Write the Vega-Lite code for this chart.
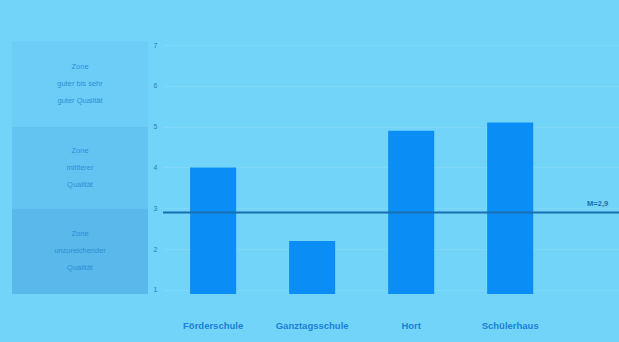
{
  "$schema": "https://vega.github.io/schema/vega-lite/v6.json",
  "background": "#72d4f8",
  "padding": {"left": 12, "top": 41, "right": 0, "bottom": 14},
  "spacing": 5,
  "config": {
    "view": {"stroke": null},
    "font": "Liberation Sans"
  },
  "datasets": {
    "zones": [
      {"lo": 0.9, "hi": 3, "label": "Zone\nunzureichender\nQualität", "zone": "low"},
      {"lo": 3, "hi": 5, "label": "Zone\nmittlerer\nQualität", "zone": "mid"},
      {"lo": 5, "hi": 7.1, "label": "Zone\nguter bis sehr\nguter Qualität", "zone": "high"}
    ],
    "bars": [
      {"schulart": "Förderschule", "wert": 4.0},
      {"schulart": "Ganztagsschule", "wert": 2.2},
      {"schulart": "Hort", "wert": 4.9},
      {"schulart": "Schülerhaus", "wert": 5.1}
    ]
  },
  "hconcat": [
    {
      "width": 136,
      "height": 253,
      "data": {"name": "zones"},
      "transform": [{"calculate": "(datum.lo + datum.hi) / 2", "as": "mitte"}],
      "layer": [
        {
          "mark": {"type": "rect"},
          "encoding": {
            "y": {"field": "hi", "type": "quantitative", "scale": {"domain": [0.9, 7.1], "nice": false, "zero": false}, "axis": null},
            "y2": {"field": "lo"},
            "color": {"field": "zone", "type": "nominal", "scale": {"domain": ["low", "mid", "high"], "range": ["#5ab8ea", "#63c4f1", "#6dcdf6"]}, "legend": null}
          }
        },
        {
          "mark": {"type": "text", "lineBreak": "\n", "lineHeight": 17, "fontSize": 7.5, "color": "#2f8fd8", "align": "center", "baseline": "middle", "dy": -17},
          "encoding": {
            "y": {"field": "mitte", "type": "quantitative", "scale": {"domain": [0.9, 7.1], "nice": false, "zero": false}, "axis": null},
            "text": {"field": "label"}
          }
        }
      ]
    },
    {
      "width": 456,
      "height": 253,
      "resolve": {"scale": {"x": "independent"}},
      "layer": [
        {
          "data": {"name": "bars"},
          "mark": {"type": "bar", "color": "#0a8ef5"},
          "encoding": {
            "x": {
              "field": "schulart", "type": "nominal", "sort": null, "title": null,
              "scale": {"paddingInner": 0.535, "paddingOuter": 0.57, "align": 0.24},
              "axis": {"labelAngle": 0, "domain": false, "ticks": false, "labelPadding": 26, "labelFontSize": 9.5, "labelFontWeight": "bold", "labelColor": "#1a80d8"}
            },
            "y": {
              "field": "wert", "type": "quantitative", "title": null,
              "scale": {"domain": [0.9, 7.1], "nice": false, "zero": false},
              "axis": {"values": [1, 2, 3, 4, 5, 6, 7], "domain": false, "ticks": false, "labelPadding": 6, "labelFontSize": 7, "labelColor": "#2c80bc", "gridColor": "#ffffff", "gridOpacity": 0.1}
            },
            "y2": {"datum": 0.9}
          }
        },
        {
          "data": {"values": [{"mittel": 2.9}]},
          "mark": {"type": "rule", "color": "#1a6fb0", "strokeWidth": 2},
          "encoding": {
            "y": {"field": "mittel", "type": "quantitative"}
          }
        },
        {
          "data": {"values": [{"mittel": 2.9, "pos": 0.93, "text": "M=2,9"}]},
          "mark": {"type": "text", "align": "left", "baseline": "bottom", "dy": -4, "fontSize": 7.5, "fontWeight": "bold", "color": "#1a6fb0", "clip": true},
          "encoding": {
            "x": {"field": "pos", "type": "quantitative", "scale": {"domain": [0, 1]}, "axis": null},
            "y": {"field": "mittel", "type": "quantitative"},
            "text": {"field": "text"}
          }
        }
      ]
    }
  ]
}
